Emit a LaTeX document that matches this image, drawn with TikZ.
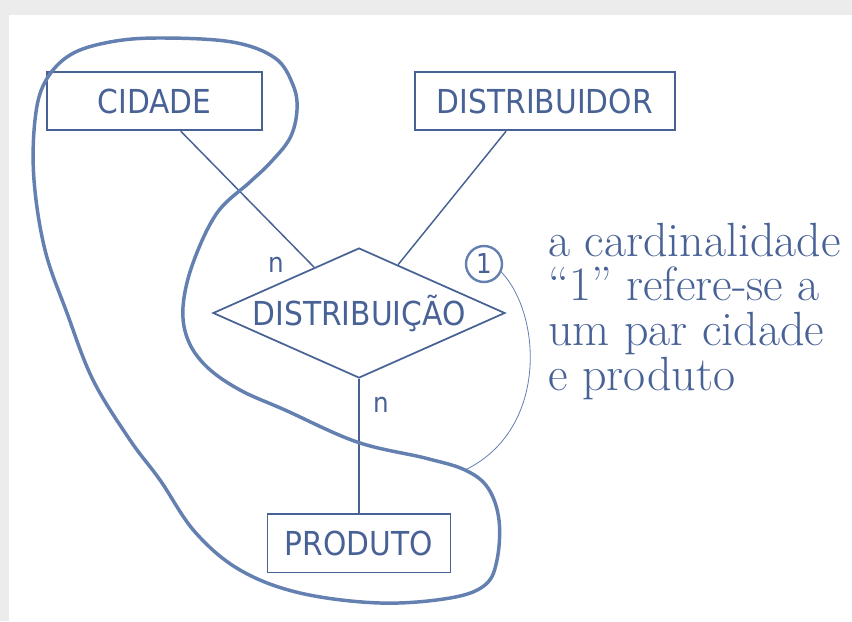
\documentclass[tikz,border=0pt]{standalone}
\usepackage{fontspec}
\usepackage{tikz}
\usetikzlibrary{
	shapes.geometric,
	positioning
}
\newfontfamily\handfont[FakeStretch=0.9]{DejaVu Sans}
\definecolor{ink}{RGB}{72,98,150}
\definecolor{loopink}{RGB}{100,128,176}
\definecolor{framegray}{RGB}{236,236,236}

\begin{document}
\begin{tikzpicture}[
				x=0.75pt, y=-0.75pt,
				entity/.style={
					rectangle, draw=ink, line width=1.3pt,
					inner sep=0pt, minimum height=44pt, text=ink,
					font=\handfont\fontsize{24.75}{28}\selectfont
				},
				relation/.style={
					diamond, draw=ink, line width=1.3pt, aspect=2.25,
					inner sep=-3pt, minimum width=219pt, minimum height=97.5pt,
					text=ink, font=\handfont\fontsize{24.75}{28}\selectfont
				},
				card/.style={
					inner sep=0pt, text=ink,
					font=\handfont\fontsize{20.5}{24}\selectfont
				},
				cardcircle/.style={
					card, circle, draw=loopink, line width=1.8pt,
					minimum size=27pt
				},
				link/.style={draw=ink, line width=1.1pt},
				thinlink/.style={draw=loopink, line width=0.6pt},
				loopline/.style={draw=loopink, line width=2.6pt, line join=round},
				note/.style={
					align=left, inner sep=0pt, text=ink,
					font=\fontsize{36}{33.5}\selectfont
				}
				]
				
				% frame
				\fill[framegray] (0,0) rectangle (852,621);
				\fill[white] (9,15) rectangle (852,621);
				\useasboundingbox (0,0) rectangle (852,621);
				
				% cidade
				\node[entity, minimum width=161.25pt] (cidade) at (154.5,101) {CIDADE};
				
				% distribuidor
				\node[entity, minimum width=195pt, right=113.25pt of cidade] (distribuidor) {DISTRIBUIDOR};
				
				% relationship
				\node[relation] (distribuicao) at (359,313) {DISTRIBUIÇÃO};
				
				% produto
				\node[entity, minimum width=137.25pt, below=100.5pt of distribuicao] (produto) {PRODUTO};
				
				% links
				\draw[link] (cidade.-49) -- (distribuicao);
				\draw[link] (distribuidor.-142) -- (distribuicao);
				\draw[link] (distribuicao.south) -- (produto.north);
				
				% cardinalities
				\node[card] (ncidade) at (276,265) {n};
				\node[card] (nproduto) at (381,405) {n};
				\node[cardcircle] (one) at (484,264) {1};
				
				% loop round cidade and produto
				\draw[loopline] plot[smooth cycle, tension=0.6] coordinates {
					(160,38) (232,42) (275,58) (293,85) (297,110) (290,138)
					(270,163) (250,182) (217,213) (193,263) (183,307) (188,340)
					(207,367) (240,390) (285,410) (357,442) (425,458) (465,470)
					(488,488) (499,520) (497,560) (485,585) (450,598) (380,603)
					(300,593) (240,570) (195,532) (160,480) (130,440) (93,380)
					(67,313) (45,250) (34,180) (35,120) (45,82) (70,55) (110,42)
				};
				\coordinate (touch) at (465,470);
				\draw[thinlink] (one.-25) .. controls (542,315) and (548,430) .. (touch);
				
				% note
				\node[note, anchor=base west] (nota) at (548,390) {a cardinalidade\\“1” refere-se a\\um par cidade\\e produto};
			\end{tikzpicture}
\end{document}
